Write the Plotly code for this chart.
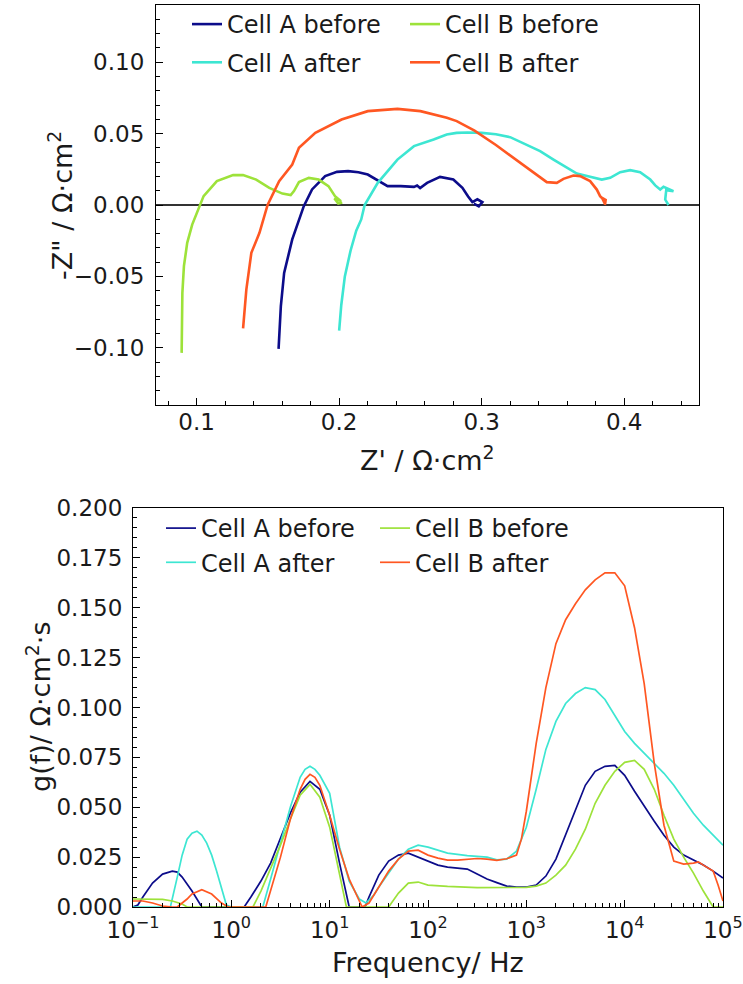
import plotly.graph_objects as go

# ---------------- Nyquist data (Z' , -Z'') in Ohm cm2 ----------------
nyq_a_before_x = [0.1575, 0.1591, 0.1614, 0.1671, 0.1752, 0.181, 0.1902, 0.1985, 0.2063, 0.2135, 0.2201,
                  0.2294, 0.234, 0.2432, 0.2525, 0.2547, 0.2568, 0.2617, 0.2708, 0.2801, 0.2865, 0.2905,
                  0.2935, 0.297, 0.3005, 0.298, 0.2945]
nyq_a_before_y = [-0.1007, -0.0708, -0.0475, -0.0241, -0.0008, 0.0109, 0.0202, 0.0232, 0.0237, 0.0229, 0.0213,
                  0.0155, 0.0132, 0.0132, 0.0127, 0.0136, 0.0119, 0.0155, 0.0197, 0.0178, 0.012, 0.006,
                  0.002, 0.004, 0.002, -0.001, 0.001]

nyq_a_after_x = [0.2, 0.2015, 0.204, 0.208, 0.212, 0.2155, 0.2179, 0.2271, 0.2409, 0.2525, 0.2663, 0.2755,
                 0.2824, 0.29, 0.3, 0.31, 0.32, 0.33, 0.341, 0.3504, 0.3598, 0.3668, 0.3761, 0.3843, 0.3902,
                 0.3972, 0.4042, 0.4112, 0.4183, 0.4218, 0.4253, 0.4276, 0.4346, 0.4295, 0.4288, 0.4311]
nyq_a_after_y = [-0.088, -0.07, -0.05, -0.032, -0.018, -0.0101, 0.0, 0.0155, 0.0318, 0.0412, 0.0458, 0.0493,
                 0.0505, 0.0508, 0.0505, 0.0495, 0.0475, 0.043, 0.0377, 0.0318, 0.026, 0.022, 0.0197, 0.0178,
                 0.019, 0.023, 0.0244, 0.023, 0.0178, 0.0137, 0.0108, 0.0127, 0.0097, 0.0104, 0.0038, 0.0]

nyq_b_before_x = [0.0895, 0.0895, 0.09, 0.0911, 0.0934, 0.0969, 0.1026, 0.1049, 0.1142, 0.1256, 0.1326,
                  0.1418, 0.151, 0.1602, 0.166, 0.1683, 0.1718, 0.1787, 0.1856, 0.1925, 0.1971, 0.2013,
                  0.1967, 0.1994, 0.2022]
nyq_b_before_y = [-0.1035, -0.0918, -0.0615, -0.0428, -0.0265, -0.0137, 0.0, 0.0062, 0.0167, 0.0209, 0.0209,
                  0.0178, 0.012, 0.008, 0.0069, 0.0097, 0.016, 0.019, 0.0178, 0.0132, 0.0062, 0.0027,
                  0.0045, 0.001, 0.0017]

nyq_b_after_x = [0.1326, 0.1349, 0.1384, 0.1441, 0.1498, 0.1579, 0.1671, 0.1718, 0.1833, 0.2017, 0.2201,
                 0.2409, 0.257, 0.2756, 0.2825, 0.295, 0.31, 0.325, 0.333, 0.341, 0.3457, 0.3527, 0.3574,
                 0.3644, 0.3691, 0.3761, 0.3808, 0.3831, 0.3855, 0.3867, 0.3845, 0.387, 0.3865]
nyq_b_after_y = [-0.0864, -0.0591, -0.0335, -0.0195, 0.0, 0.0167, 0.0283, 0.04, 0.0505, 0.0598, 0.0657,
                 0.0673, 0.0657, 0.061, 0.0587, 0.052, 0.042, 0.031, 0.025, 0.019, 0.016, 0.0155, 0.0183,
                 0.0206, 0.0202, 0.0167, 0.0108, 0.0062, 0.0038, 0.0003, 0.005, 0.0035, 0.0]

# ---------------- DRT data: frequency (Hz), g(f) ----------------
drt_a_before_f = [0.1, 0.112, 0.126, 0.158, 0.2, 0.251, 0.282, 0.316, 0.398, 0.479, 0.501, 1.0, 1.35, 1.58,
                  2.0, 2.51, 3.16, 3.98, 5.01, 6.31, 7.94, 10, 12.6, 15.8, 17.8, 22.9, 25.1, 31.6, 39.8,
                  50.1, 63.1, 79.4, 100, 126, 158, 200, 251, 316, 398, 501, 631, 794, 1000, 1260, 1580,
                  2000, 2510, 3160, 3980, 5010, 6310, 7940, 10000, 12600, 15800, 20000, 25100, 31600,
                  39800, 50100, 63100, 79400, 100000]
drt_a_before_g = [0.0, 0.001, 0.005, 0.012, 0.0165, 0.018, 0.0175, 0.015, 0.008, 0.001, 0.0, 0.0, 0.0, 0.005,
                  0.013, 0.022, 0.034, 0.047, 0.0575, 0.063, 0.059, 0.046, 0.022, 0.0, 0.0, 0.0, 0.005,
                  0.016, 0.023, 0.026, 0.027, 0.025, 0.023, 0.021, 0.02, 0.0195, 0.019, 0.0165, 0.014,
                  0.0122, 0.0105, 0.01, 0.01, 0.011, 0.0155, 0.024, 0.036, 0.049, 0.061, 0.068, 0.0705,
                  0.071, 0.066, 0.058, 0.0505, 0.043, 0.036, 0.030, 0.026, 0.0235, 0.021, 0.018, 0.0145]

drt_a_after_f = [0.1, 0.24, 0.282, 0.316, 0.355, 0.398, 0.447, 0.501, 0.562, 0.631, 0.708, 0.794, 0.891, 1.0,
                 2.09, 2.51, 3.16, 3.98, 5.01, 5.62, 6.31, 7.08, 7.94, 10, 12.6, 15.8, 20, 23.4, 28.2, 31.6,
                 39.8, 50.1, 63.1, 79.4, 100, 126, 158, 251, 398, 501, 631, 794, 1000, 1260, 1580, 2000,
                 2510, 3160, 3980, 5010, 6310, 7940, 10000, 12600, 15800, 20000, 25100, 31600, 39800,
                 50100, 63100, 79400, 100000]
drt_a_after_g = [0.0, 0.0, 0.015, 0.026, 0.034, 0.037, 0.038, 0.036, 0.032, 0.026, 0.018, 0.009, 0.001, 0.0,
                 0.0, 0.014, 0.032, 0.05, 0.065, 0.069, 0.0705, 0.069, 0.066, 0.057, 0.03, 0.013, 0.004,
                 0.002, 0.006, 0.01, 0.017, 0.024, 0.029, 0.031, 0.030, 0.0285, 0.027, 0.0258, 0.025,
                 0.0236, 0.024, 0.028, 0.04, 0.059, 0.079, 0.093, 0.102, 0.107, 0.11, 0.109, 0.104, 0.096,
                 0.088, 0.082, 0.077, 0.072, 0.067, 0.061, 0.054, 0.047, 0.041, 0.036, 0.031]

drt_b_before_f = [0.1, 0.158, 0.2, 0.251, 0.316, 0.355, 1.66, 2.0, 2.51, 3.16, 3.98, 5.01, 6.31, 7.94, 10,
                  12.6, 14.8, 39.8, 50.1, 63.1, 79.4, 100, 158, 316, 631, 1000, 1260, 1580, 2000, 2510,
                  3160, 3980, 5010, 6310, 7940, 10000, 12600, 15800, 20000, 25100, 31600, 39800, 50100,
                  63100, 79400, 100000]
drt_b_before_g = [0.004, 0.004, 0.0038, 0.003, 0.0015, 0.0, 0.0, 0.008, 0.019, 0.031, 0.044, 0.056, 0.0615,
                  0.055, 0.04, 0.017, 0.0, 0.0, 0.007, 0.012, 0.0125, 0.011, 0.0103, 0.0097, 0.0097,
                  0.0098, 0.0105, 0.012, 0.016, 0.021, 0.029, 0.039, 0.052, 0.061, 0.068, 0.0725, 0.0735,
                  0.069, 0.059, 0.046, 0.034, 0.025, 0.017, 0.008, 0.0, 0.0]

drt_b_after_f = [0.1, 0.126, 0.158, 0.2, 0.251, 0.282, 0.355, 0.398, 0.501, 0.631, 0.794, 0.933, 2.24, 2.51,
                 3.16, 3.98, 5.01, 5.62, 6.31, 7.08, 7.94, 10, 12.6, 15.8, 20, 21.4, 25.1, 31.6, 39.8, 50.1,
                 63.1, 79.4, 100, 126, 158, 200, 251, 316, 398, 501, 631, 794, 891, 1000, 1260, 1580,
                 2000, 2510, 3160, 3980, 5010, 6310, 7940, 10000, 12600, 15800, 20000, 25100, 31600,
                 39800, 50100, 56200, 63100, 79400, 89100, 100000]
drt_b_after_g = [0.003, 0.003, 0.002, 0.0005, 0.0, 0.0, 0.004, 0.0065, 0.0087, 0.0065, 0.002, 0.0, 0.0, 0.008,
                 0.025, 0.044, 0.059, 0.064, 0.0665, 0.065, 0.061, 0.046, 0.029, 0.014, 0.003, 0.0, 0.002,
                 0.01, 0.018, 0.024, 0.028, 0.0285, 0.026, 0.0245, 0.0235, 0.0235, 0.024, 0.0243, 0.024,
                 0.0234, 0.0242, 0.026, 0.034, 0.048, 0.082, 0.11, 0.132, 0.144, 0.152, 0.159, 0.164,
                 0.1675, 0.1675, 0.161, 0.14, 0.112, 0.072, 0.041, 0.023, 0.0215, 0.022, 0.0226, 0.021,
                 0.018, 0.011, 0.003]

series_names = ["Cell A before", "Cell A after", "Cell B before", "Cell B after"]
series_colors = ["#0c0c8a", "#3de6d2", "#9de23a", "#ff5722"]

freq_tickvals = [0.1, 1, 10, 100, 1000, 10000, 100000]
freq_ticktext = ["10<sup>\u22121</sup>", "10<sup>0</sup>", "10<sup>1</sup>", "10<sup>2</sup>",
                 "10<sup>3</sup>", "10<sup>4</sup>", "10<sup>5</sup>"]

FONT = "DejaVu Sans"
TXT = "#1a1a1a"

fig = go.Figure()

nyq = [(nyq_a_before_x, nyq_a_before_y), (nyq_a_after_x, nyq_a_after_y),
       (nyq_b_before_x, nyq_b_before_y), (nyq_b_after_x, nyq_b_after_y)]
top_legends = ["legend", "legend", "legend2", "legend2"]
for i, (xs, ys) in enumerate(nyq):
    fig.add_trace(go.Scatter(x=xs, y=ys, mode="lines", name=series_names[i],
                             line=dict(color=series_colors[i], width=2.6),
                             xaxis="x", yaxis="y", legend=top_legends[i],
                             legendgroup="t%d" % i))

drt = [(drt_a_before_f, drt_a_before_g), (drt_a_after_f, drt_a_after_g),
       (drt_b_before_f, drt_b_before_g), (drt_b_after_f, drt_b_after_g)]
bot_legends = ["legend3", "legend3", "legend4", "legend4"]
for i, (fs, gs) in enumerate(drt):
    fig.add_trace(go.Scatter(x=fs, y=gs, mode="lines", name=series_names[i],
                             line=dict(color=series_colors[i], width=1.7),
                             xaxis="x2", yaxis="y2", legend=bot_legends[i],
                             legendgroup="b%d" % i))

W, H = 743, 984
def px_x(p):
    return p / W
def px_y(p):
    return 1 - p / H

axis_common = dict(showline=True, mirror=True, linecolor="black", linewidth=1.2,
                   ticks="inside", ticklen=7, tickwidth=1.1, tickcolor="black",
                   showgrid=False, automargin=False,
                   tickfont=dict(family=FONT, size=23, color=TXT))

leg_font = dict(family=FONT, size=24, color=TXT)

fig.update_layout(
    width=W, height=H,
    margin=dict(l=0, r=0, t=0, b=0, autoexpand=False),
    paper_bgcolor="white", plot_bgcolor="white",
    font=dict(family=FONT, size=23, color=TXT),
    xaxis=dict(domain=[px_x(156), px_x(699)], anchor="y", range=[0.0715, 0.4525],
               tick0=0, dtick=0.1, tickformat=".1f", zeroline=False, ticklabelstandoff=-4,
               minor=dict(ticks="inside", ticklen=4, tickcolor="black", dtick=0.02, tick0=0),
               **axis_common),
    yaxis=dict(domain=[px_y(405), px_y(5)], anchor="x", range=[-0.14, 0.14],
               tick0=0, dtick=0.05, tickformat=".2f", ticklabelstandoff=6,
               minor=dict(ticks="inside", ticklen=4, tickcolor="black", dtick=0.01, tick0=0),
               zeroline=True, zerolinecolor="#333333", zerolinewidth=2,
               **axis_common),
    xaxis2=dict(domain=[px_x(133), px_x(723)], anchor="y2", type="log", range=[-1, 5],
                tickmode="array", tickvals=freq_tickvals, ticktext=freq_ticktext, zeroline=False,
                ticklabelstandoff=2,
                minor=dict(ticks="inside", ticklen=4, tickcolor="black", dtick="D1"),
                **axis_common),
    yaxis2=dict(domain=[px_y(907), px_y(508)], anchor="x2", range=[0, 0.2],
                tick0=0, dtick=0.025, tickformat=".3f", zeroline=False, ticklabelstandoff=5,
                minor=dict(ticks="inside", ticklen=4, tickcolor="black", dtick=0.005, tick0=0),
                **axis_common),
    legend=dict(x=px_x(187), y=px_y(2), xanchor="left", yanchor="top", bgcolor="rgba(0,0,0,0)",
                font=leg_font, tracegroupgap=4, borderwidth=0),
    legend2=dict(x=px_x(405), y=px_y(2), xanchor="left", yanchor="top", bgcolor="rgba(0,0,0,0)",
                 font=leg_font, tracegroupgap=4, borderwidth=0),
    legend3=dict(x=px_x(161), y=px_y(506), xanchor="left", yanchor="top", bgcolor="rgba(0,0,0,0)",
                 font=leg_font, tracegroupgap=0, borderwidth=0),
    legend4=dict(x=px_x(375), y=px_y(506), xanchor="left", yanchor="top", bgcolor="rgba(0,0,0,0)",
                 font=leg_font, tracegroupgap=0, borderwidth=0),
    annotations=[
        dict(text="Z' / \u03a9\u00b7cm<sup>2</sup>", x=px_x(427.5), y=px_y(458), xref="paper", yref="paper",
             showarrow=False, xanchor="center", yanchor="middle", font=dict(family=FONT, size=27, color=TXT)),
        dict(text="-Z\" / \u03a9\u00b7cm<sup>2</sup>", x=px_x(60), y=px_y(205), xref="paper", yref="paper",
             showarrow=False, xanchor="center", yanchor="middle", textangle=-90,
             font=dict(family=FONT, size=27, color=TXT)),
        dict(text="Frequency/ Hz", x=px_x(428), y=px_y(962), xref="paper", yref="paper",
             showarrow=False, xanchor="center", yanchor="middle", font=dict(family=FONT, size=27, color=TXT)),
        dict(text="g(f)/ \u03a9\u00b7cm<sup>2</sup>\u00b7s", x=px_x(38), y=px_y(707), xref="paper", yref="paper",
             showarrow=False, xanchor="center", yanchor="middle", textangle=-90,
             font=dict(family=FONT, size=27, color=TXT)),
    ],
)

# remove the browser's default 8 px page margin so the figure sits at the page origin
fig.write_html("out.html",
               config={"displayModeBar": False},
               post_script="document.body.style.margin='0';document.body.style.overflow='hidden';")
